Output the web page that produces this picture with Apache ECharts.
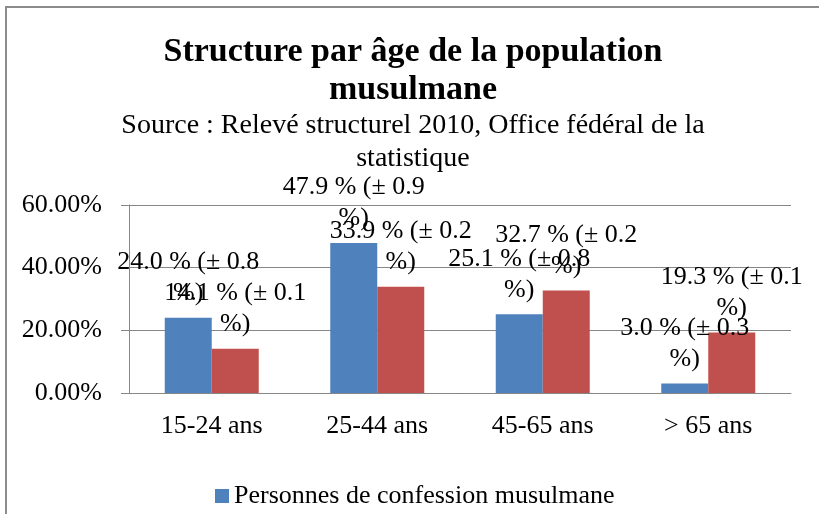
<!DOCTYPE html>
<html>
<head>
<meta charset="utf-8">
<script src="https://cdn.jsdelivr.net/npm/echarts@6/dist/echarts.min.js"></script>
<style>
  html, body { margin: 0; padding: 0; background: #fff; }
  #chart { width: 819px; height: 514px; }
</style>
</head>
<body>
<div id="chart"></div>
<script>
// données
var categories = ["15-24 ans", "25-44 ans", "45-65 ans", "> 65 ans"];
var musulmans = [24.0, 47.9, 25.1, 3.0];
var musulmansMarge = [0.8, 0.9, 0.8, 0.3];
var totale = [14.1, 33.9, 32.7, 19.3];
var totaleMarge = [0.1, 0.2, 0.2, 0.1];
var yTicks = [0, 20, 40, 60];

var serif = "'Liberation Serif', 'Times New Roman', serif";
var gris = "#878787";

function etiquette(marges) {
  return function (p) {
    return p.value.toFixed(1) + " % (± " + marges[p.dataIndex].toFixed(1) + "\n%)";
  };
}

var chart = echarts.init(document.getElementById("chart"));

var option = {
  animation: false,
  textStyle: { fontFamily: serif, color: "#000" },
  title: {
    text: "Structure par âge de la population\nmusulmane",
    subtext: "Source : Relevé structurel 2010, Office fédéral de la\nstatistique",
    left: 413,
    textAlign: "center",
    top: 33,
    padding: 0,
    itemGap: 0,
    textStyle: { fontFamily: serif, fontSize: 34, fontWeight: "bold", lineHeight: 38, color: "#000" },
    subtextStyle: { fontFamily: serif, fontSize: 28, lineHeight: 33, color: "#000" }
  },
  graphic: [
    {
      type: "rect",
      shape: { x: 6, y: 7, width: 900, height: 600 },
      style: { fill: "none", stroke: "#8c8c8c", lineWidth: 2 },
      silent: true
    }
  ],
  legend: {
    data: ["Personnes de confession musulmane"],
    left: 215,
    top: 483,
    padding: 0,
    icon: "rect",
    itemWidth: 14,
    itemHeight: 14,
    textStyle: { fontFamily: serif, fontSize: 26, color: "#000" }
  },
  grid: { left: 129, right: 28, top: 205, bottom: 121 },
  xAxis: {
    type: "category",
    data: categories,
    axisLine: { lineStyle: { color: gris } },
    axisTick: { length: 8, lineStyle: { color: gris } },
    axisLabel: { fontFamily: serif, fontSize: 26, color: "#000", margin: 20 }
  },
  yAxis: {
    type: "value",
    min: yTicks[0],
    max: yTicks[yTicks.length - 1],
    interval: yTicks[1] - yTicks[0],
    axisLine: { show: true, lineStyle: { color: gris } },
    axisTick: { show: true, length: 8, lineStyle: { color: gris } },
    splitLine: { lineStyle: { color: gris } },
    axisLabel: {
      fontFamily: serif,
      fontSize: 26,
      color: "#000",
      margin: 27,
      formatter: function (v) { return v.toFixed(2) + "%"; }
    }
  },
  series: [
    {
      name: "Personnes de confession musulmane",
      type: "bar",
      data: musulmans,
      barWidth: 47,
      barGap: "0%",
      itemStyle: { color: "#4f81bd" },
      label: {
        show: true,
        position: "top",
        distance: 9,
        fontFamily: serif,
        fontSize: 26,
        lineHeight: 31,
        color: "#000",
        formatter: etiquette(musulmansMarge)
      }
    },
    {
      name: "Population résidante totale",
      type: "bar",
      data: totale,
      barWidth: 47,
      barGap: "0%",
      itemStyle: { color: "#c0504d" },
      label: {
        show: true,
        position: "top",
        distance: 9,
        fontFamily: serif,
        fontSize: 26,
        lineHeight: 31,
        color: "#000",
        formatter: etiquette(totaleMarge)
      }
    }
  ]
};

chart.setOption(option);
</script>
</body>
</html>
